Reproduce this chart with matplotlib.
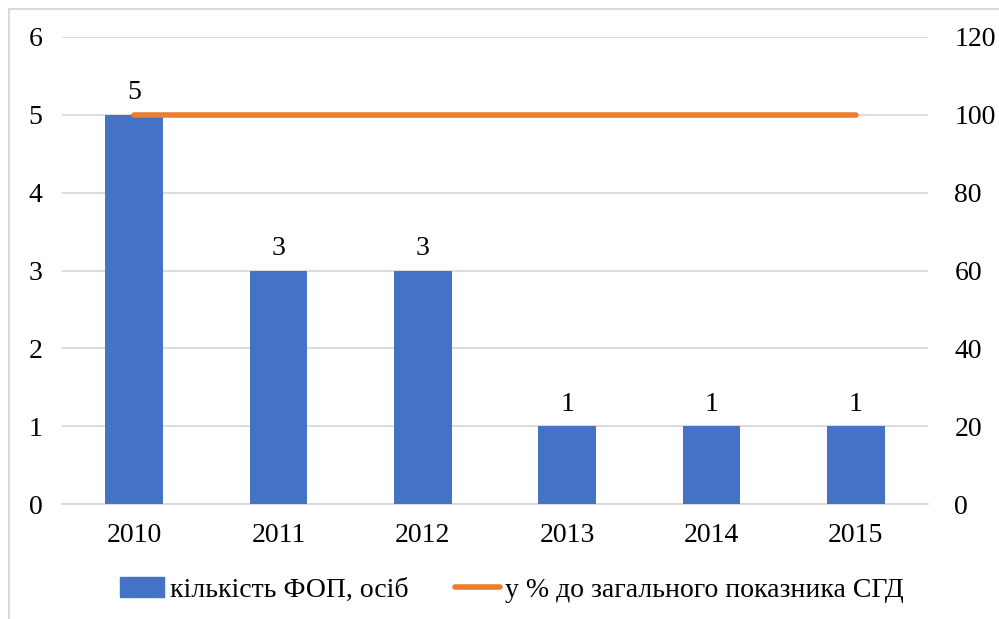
import matplotlib
matplotlib.use("Agg")
import matplotlib.pyplot as plt
from matplotlib.patches import Rectangle
from matplotlib.lines import Line2D

years = ["2010", "2011", "2012", "2013", "2014", "2015"]
fop_count = [5, 3, 3, 1, 1, 1]
pct_of_total = [100, 100, 100, 100, 100, 100]
bar_label = "кількість ФОП, осіб"
line_label = "у % до загального показника СГД"

plt.rcParams["font.family"] = ["Liberation Serif", "DejaVu Serif"]
W, H = 999, 619
FS = 20
fig = plt.figure(figsize=(W / 100, H / 100), dpi=100)

# outer border
fig.patches.append(Rectangle((9 / W, -0.05), (W - 9 + 20) / W, 1 - 9 / H + 0.05,
                             transform=fig.transFigure, fill=False,
                             edgecolor="#d9d9d9", linewidth=1.5))

ax = fig.add_axes([62 / W, 1 - 504 / H, (928 - 62) / W, (504 - 37) / H])
ax2 = ax.twinx()

x = list(range(len(years)))
ax.bar(x, fop_count, width=0.4, color="#4472c4", zorder=3)
for xi, v in zip(x, fop_count):
    ax.text(xi, v + 0.12, str(v), ha="center", va="bottom", fontsize=FS)

ax2.plot(x, pct_of_total, color="#ed7d31", linewidth=4, solid_capstyle="round", zorder=4)

ax.set_xlim(-0.5, len(years) - 0.5)
ax.set_ylim(0, 6)
ax2.set_ylim(0, 120)
ax.set_yticks(range(0, 7))
ax2.set_yticks(range(0, 121, 20))
ax.set_xticks(x)
ax.set_xticklabels(years)
ax.grid(axis="y", color="#d9d9d9", linewidth=1.3, zorder=0)
ax.set_axisbelow(True)
for a in (ax, ax2):
    for s in a.spines.values():
        s.set_visible(False)
    a.tick_params(length=0, labelsize=FS)
ax.spines["bottom"].set_visible(True)
ax.spines["bottom"].set_color("#d9d9d9")
ax.spines["bottom"].set_linewidth(1.3)
ax.tick_params(axis="y", pad=14)
ax.tick_params(axis="x", pad=14)
ax2.tick_params(axis="y", pad=19)

# legend
handles = [Rectangle((0, 0), 1, 1, color="#4472c4"),
           Line2D([0], [0], color="#ed7d31", linewidth=4, solid_capstyle="round")]
fig.legend(handles, [bar_label, line_label], loc="center", ncol=2,
           bbox_to_anchor=(512 / W, 1 - 590 / H), frameon=False, fontsize=FS,
           handlelength=1.6, handletextpad=0.2, columnspacing=1.7)

fig.savefig("out.png", dpi=100)
